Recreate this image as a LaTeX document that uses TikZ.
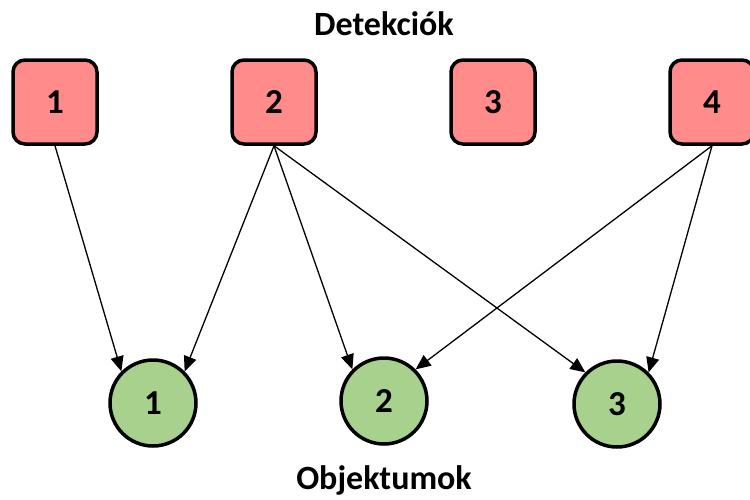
\documentclass[tikz,border=0pt]{standalone}
\usepackage{fontspec}
\setmainfont{Carlito}
\usetikzlibrary{arrows.meta}
\definecolor{detfill}{HTML}{FF8B8B}
\definecolor{objfill}{HTML}{A9D18E}
\tikzset{
  detbox/.style={draw=black, fill=detfill, line width=3.5pt, rounded corners=12pt,
    minimum width=84pt, minimum height=84pt, inner sep=0pt,
    font=\fontsize{35}{40}\selectfont\bfseries},
  objcirc/.style={draw=black, fill=objfill, line width=3.5pt, circle,
    minimum size=86pt, inner sep=0pt,
    font=\fontsize{35}{40}\selectfont\bfseries},
  heading/.style={font=\fontsize{34}{40}\selectfont\bfseries, inner sep=0pt, anchor=base},
  link/.style={line width=1.3pt, -{Triangle[length=15pt,width=13pt]}}
}
\begin{document}
\begin{tikzpicture}[x=1pt,y=-1pt]
  \clip (0,0) rectangle (750,499);
  % headings
  \node[heading] (htop) at (384,35) {Detekciók};
  \node[heading] (hbot) at (384,489) {Objektumok};
  % detections
  \node[detbox] (b1) at (55,102) {1};
  \node[detbox] (b2) at (274,102) {2};
  \node[detbox] (b3) at (493,102) {3};
  \node[detbox] (b4) at (712,102) {4};
  % objects
  \node[objcirc] (c1) at (153,403) {1};
  \node[objcirc] (c2) at (384,401) {2};
  \node[objcirc] (c3) at (617,404) {3};
  % associations
  \draw[link] (b1.south) -- (c1.135);
  \draw[link] (b2.south) -- (c1.45);
  \draw[link] (b2.south) -- (c2.135);
  \draw[link] (b2.south) -- (c3.135);
  \draw[link] (b4.south) -- (c2.45);
  \draw[link] (b4.south) -- (c3.45);
\end{tikzpicture}
\end{document}
